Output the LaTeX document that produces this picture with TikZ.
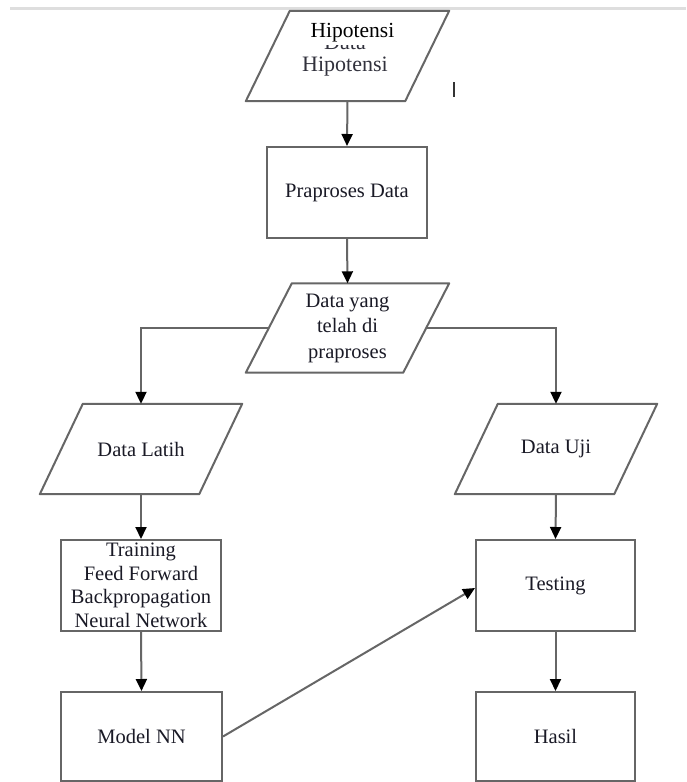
\documentclass[tikz,border=0pt]{standalone}
\usepackage{fontspec}
\setmainfont{Liberation Serif}
\usetikzlibrary{arrows.meta}
\definecolor{linegray}{HTML}{666666}
\definecolor{txt}{HTML}{1A1A26}
\tikzset{
  boxnode/.style={draw=linegray, line width=2pt, rectangle, inner sep=0pt, align=center, text=txt,
    font=\fontsize{20.5}{24}\selectfont},
  paranode/.style={rectangle, inner sep=0pt, align=center, text=txt,
    font=\fontsize{20.5}{25.5}\selectfont},
  paraline/.style={draw=linegray, line width=2pt, line join=round},
  conn/.style={draw=linegray, line width=2pt, -{Triangle[length=12pt,width=11pt,color=black]}},
  plain/.style={draw=linegray, line width=2pt}
}
\begin{document}
\begin{tikzpicture}[x=1pt,y=-1pt]
\useasboundingbox (0,0) rectangle (686,782);
\fill[white] (0,0) rectangle (686,782);
% top light rule
\draw[line width=3pt, color=black!13] (10,8) -- (686,8);

% nodes
\node[paranode, minimum width=203, minimum height=90] (top) at (347.5,56) {};
\node[boxnode, minimum width=160, minimum height=91] (prep) at (347,192.5) {Praproses Data};
\node[paranode, minimum width=203, minimum height=89] (dy) at (347.5,328) {Data yang\\telah di\\praproses};
\node[paranode, minimum width=202, minimum height=90] (lat) at (141,449) {Data Latih};
\node[paranode, minimum width=202, minimum height=90] (uji) at (556,449) {Data Uji};
\node[boxnode, minimum width=160, minimum height=91, font=\fontsize{20.5}{23.5}\selectfont] (train) at (141,585.5) {Training\\Feed Forward\\Backpropagation\\Neural Network};
\node[boxnode, minimum width=159, minimum height=91] (test) at (555.5,585.5) {Testing};
\node[boxnode, minimum width=161, minimum height=89] (mnn) at (141.5,736.5) {Model NN};
\node[boxnode, minimum width=159, minimum height=89] (hasil) at (555.5,736.5) {Hasil};

% parallelogram outlines
\draw[paraline] ([xshift=44]top.north west) -- (top.north east) -- ([xshift=-44]top.south east) -- (top.south west) -- cycle;
\draw[paraline] ([xshift=46]dy.north west) -- (dy.north east) -- ([xshift=-46]dy.south east) -- (dy.south west) -- cycle;
\draw[paraline] ([xshift=43]lat.north west) -- (lat.north east) -- ([xshift=-43]lat.south east) -- (lat.south west) -- cycle;
\draw[paraline] ([xshift=43]uji.north west) -- (uji.north east) -- ([xshift=-43]uji.south east) -- (uji.south west) -- cycle;

% overlapping texts in the top parallelogram
\node[paranode, font=\fontsize{22}{22}\selectfont, text=txt!90] (toplow) at (345,56) {Data\\Hipotensi};
\node[inner sep=0pt, fill=white, minimum height=24, minimum width=96, text=black,
      font=\fontsize{21.5}{22}\selectfont] (topup) at (352.5,33) {Hipotensi};

% cursor mark
\draw[line width=1.3pt, color=black!80] (454,82) -- (454,97);

% connectors
\draw[conn] (top.south) -- (prep.north);
\draw[conn] (prep.south) -- (dy.north);
\draw[conn] ([xshift=23]dy.west) -| (lat.north);
\draw[conn] ([xshift=-23]dy.east) -| (uji.north);
\draw[conn] (lat.south) -- (train.north);
\draw[conn] (train.south) -- (mnn.north);
\draw[conn] (uji.south) -- (test.north);
\draw[conn] (test.south) -- (hasil.north);
\draw[conn] (mnn.east) -- ([yshift=-2.5]test.west);
\end{tikzpicture}
\end{document}
